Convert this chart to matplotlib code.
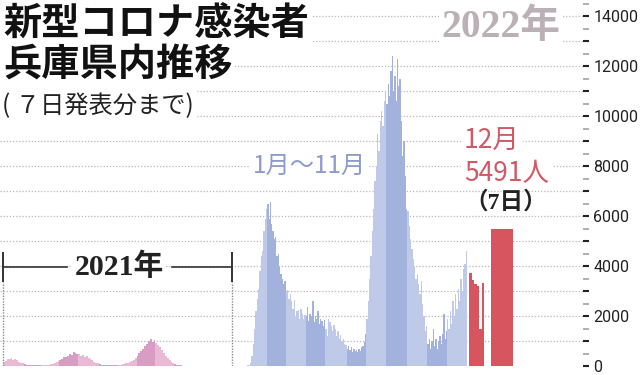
import numpy as np
import matplotlib
matplotlib.use("Agg")
import matplotlib.pyplot as plt
from matplotlib.ticker import MultipleLocator, FuncFormatter

plt.rcParams["font.family"] = ["Noto Sans CJK JP", "DejaVu Sans"]
SERIF = ["Liberation Serif", "Noto Sans CJK JP"]

# 2021 daily cases in Hyogo, one reading per 3 days
cases_2021 = [150, 220, 300, 280, 320, 260, 280, 230, 170, 140, 110, 80,
              60, 50, 40, 35, 30, 30, 25, 30, 25, 30, 35, 40,
              50, 70, 90, 120, 150, 220, 260, 300, 380, 350, 420, 480,
              440, 560, 520, 480, 500, 420, 460, 380, 400, 320, 280, 230,
              180, 140, 110, 80, 60, 50, 40, 35, 30, 30, 35, 40,
              40, 50, 60, 70, 90, 110, 130, 150, 200, 260, 330, 420,
              520, 600, 700, 820, 900, 1000, 1080, 980, 1060, 940, 860, 760,
              640, 520, 420, 320, 240, 170, 120, 80, 55, 40, 25, 20,
              15, 12, 10, 10, 8, 8, 6, 6, 5, 5, 5, 4,
              4, 4, 4, 4, 5, 5, 5, 6, 6, 6, 8, 8, 10, 12]

# 2022 Jan-Nov, one reading per 2 days
cases_2022 = [20, 30, 60, 120, 400, 900, 1500, 2200, 2700, 3100, 3800, 4400,
              4600, 5400, 5900, 6300,
              6500, 5900, 6550, 5700, 5400, 5100, 5150, 4400, 4500, 3950, 3700, 3500,
              3300, 3400,
              3000, 3050, 2700, 2900, 2600, 2300, 2650, 1950, 2200, 2250, 1900, 2300,
              2100, 1900, 2050,
              2000, 2350, 1800, 2100, 2000, 2600, 1750, 2000, 1900, 2200, 1700, 1900,
              1800, 1600, 1850,
              1500, 1200, 1900, 1750, 1600, 1400, 1650, 1500, 1200, 1400, 1100, 1250,
              1000, 1100, 900,
              850, 700, 800, 650, 750, 550, 700, 600, 650, 550, 700, 600,
              750, 800, 950, 1300,
              1900, 2600, 3500, 4400, 5400, 6300, 7400, 8000, 9300, 8600, 9800, 10200,
              9600, 10600, 11000,
              10500, 11300, 10800, 11800, 12400, 11000, 11600, 10600, 12300, 11200, 11500, 9800,
              8400, 9000, 7600, 6300,
              6200, 5600, 5100, 4700, 4300, 4000, 3500, 3700, 3300, 2900, 3400, 2500,
              2000, 1400, 1600,
              900, 1100, 700, 1000, 1500, 800, 1100, 700, 1000, 1200, 900, 1300,
              2100, 1100, 1400,
              1900, 1500, 2200, 1700, 2600, 2000, 2900, 2300, 3100, 2600, 3500, 3000,
              3900, 4100, 4600]

# December 1-6, then December 7
cases_dec = [3720, 3440, 3280, 3200, 1480, 3320]
dec7 = 5491

month_days_2021 = [31, 28, 31, 30, 31, 30, 31, 31, 30, 31, 30, 31]
month_days_2022 = [31, 28, 31, 30, 31, 30, 31, 31, 30, 31, 30]

PINK = ["#e8bad5", "#d89dc2"]
BLUE = ["#bfc9e8", "#a3b2dc"]
RED = "#d6555f"
RED_TXT = "#cf5a65"

W, H = 640, 375
fig = plt.figure(figsize=(W / 100, H / 100), dpi=100)
ax = fig.add_axes([0, 9 / H, 583 / W, 366 / H])
ax.set_xlim(0, 583)
ax.set_ylim(0, 14640)
for s in ax.spines.values():
    s.set_visible(False)
ax.set_xticks([])


def month_colors(days, lengths, pal):
    m = np.searchsorted(np.cumsum(lengths), days, side="right")
    return [pal[k % 2] for k in m]


# 2021 section
x0, x1 = 3, 232
step = (x1 - x0) / 365
d21 = np.arange(len(cases_2021)) * 3
ax.bar(x0 + (d21 + 1.5) * step, cases_2021, width=3 * step + 0.05,
       color=month_colors(d21, month_days_2021, PINK), lw=0, zorder=2)

# 2022 Jan-Nov section
x0, x1 = 246, 467
step = (x1 - x0) / 334
d22 = np.arange(len(cases_2022)) * 2
ax.bar(x0 + (d22 + 1) * step, cases_2022, width=2 * step + 0.05,
       color=month_colors(d22, month_days_2022, BLUE), lw=0, zorder=2)

# December
step = 2.5
ddec = np.arange(len(cases_dec))
ax.bar(469 + (ddec + 0.5) * step, cases_dec, width=step, color=RED, lw=0, zorder=2)
ax.bar(502, dec7, width=22, color=RED, lw=0, zorder=2)

# grid
for v in range(1000, 14001, 1000):
    ax.axhline(v, color="#b8b8b8", lw=0.9, ls=(0, (1, 1.5)), zorder=0)

# right axis
ax.yaxis.tick_right()
ax.yaxis.set_major_locator(MultipleLocator(1000))
ax.yaxis.set_minor_locator(MultipleLocator(500))
ax.yaxis.set_major_formatter(FuncFormatter(lambda v, p: f"{int(v)}" if v % 2000 == 0 else ""))
ax.tick_params(axis="y", which="major", length=4.5, width=1.5, color="#222", pad=3,
               labelsize=11.5, labelcolor="#222", labelfontfamily="Roboto")
ax.tick_params(axis="y", which="minor", length=4, width=1.1, color="#9a9a9a")


def fx(x):
    return x / W


def fy(y):
    return 1 - y / H


white = dict(fc="white", ec="none", pad=2)

# titles
fig.text(fx(3), fy(24), "新型コロナ感染者", fontsize=27.5, fontweight="bold",
         va="center", ha="left", color="#111", bbox=white, zorder=5)
fig.text(fx(3), fy(64.5), "兵庫県内推移", fontsize=27.5, fontweight="bold",
         va="center", ha="left", color="#111", bbox=white, zorder=5)
fig.text(fx(2), fy(106), "( ７日発表分まで)", fontsize=17.5,
         va="center", ha="left", color="#222", bbox=white, zorder=5)

fig.text(fx(501), fy(27.5), "2022年", fontsize=28.5, fontweight="bold", family=SERIF,
         va="center", ha="center", color="#bcb0b7", bbox=white, zorder=5)

# 2021 bracket
bx0, bx1, by = 3, 232, 267
ax.plot([bx0, 67], [(366 - by) * 40] * 2, color="#333", lw=1.2, zorder=3)
ax.plot([172, bx1], [(366 - by) * 40] * 2, color="#333", lw=1.2, zorder=3)
ax.vlines([bx0, bx1], (366 - 282) * 40, (366 - 252) * 40, color="#333", lw=1.4, zorder=3)
ax.vlines([bx0, bx1], 0, (366 - 282) * 40, color="#8a8a8a", lw=1.0, ls=(0, (1, 1)), zorder=3)
fig.text(fx(119), fy(266.5), "2021年", fontsize=21.5, fontweight="bold", family=SERIF,
         va="center", ha="center", color="#222", bbox=white, zorder=5)

fig.text(fx(253), fy(165.5), "1月〜11月", fontsize=17.5,
         va="center", ha="left", color="#8c9bcb", bbox=white, zorder=5)

fig.text(fx(464), fy(141), "12月", fontsize=19,
         va="center", ha="left", color=RED_TXT, bbox=white, zorder=5)
fig.text(fx(464), fy(174), "5491人", fontsize=19,
         va="center", ha="left", color=RED_TXT, bbox=white, zorder=5)
fig.text(fx(506), fy(202), "（7日）", fontsize=17, fontweight="bold", family=SERIF,
         va="center", ha="center", color="#222", zorder=5)

fig.savefig("out.png", dpi=100)
